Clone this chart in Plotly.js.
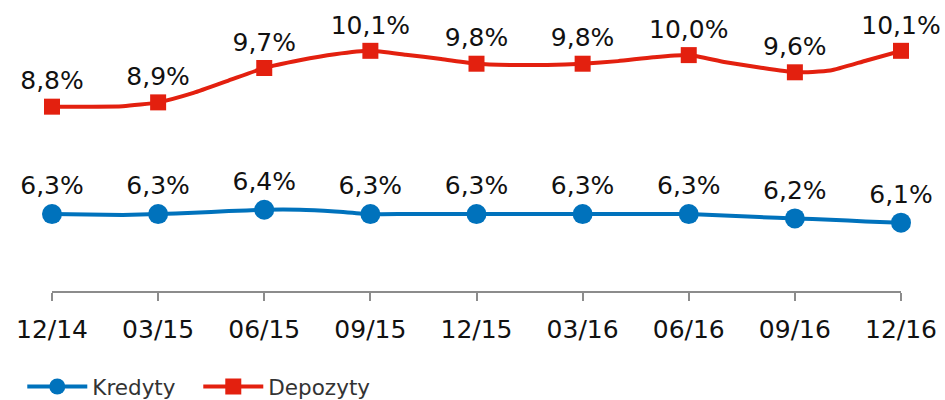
<!DOCTYPE html>
<html>
<head>
<meta charset="utf-8">
<script src="https://cdn.plot.ly/plotly-3.0.1.min.js"></script>
<style>html,body{margin:0;padding:0;background:#fff;}#chart{width:945px;height:400px;}</style>
</head>
<body>
<div id="chart"></div>
<script>
// Monthly categories (12/2014 - 12/2016)
const months = ['12/14','01/15','02/15','03/15','04/15','05/15','06/15','07/15','08/15','09/15','10/15','11/15','12/15',
                '01/16','02/16','03/16','04/16','05/16','06/16','07/16','08/16','09/16','10/16','11/16','12/16'];
// Quarterly tick labels
const quarterTicks = ['12/14','03/15','06/15','09/15','12/15','03/16','06/16','09/16','12/16'];

// Series values (%), monthly; quarterly points carry the labelled values
const kredyty = [6.3, 6.29, 6.28, 6.3, 6.33, 6.37, 6.4, 6.4, 6.36, 6.3, 6.3, 6.3, 6.3,
                 6.3, 6.3, 6.3, 6.3, 6.3, 6.3, 6.27, 6.23, 6.2, 6.17, 6.13, 6.1];
const depozyty = [8.8, 8.8, 8.81, 8.9, 9.12, 9.41, 9.7, 9.88, 10.02, 10.1, 10.01, 9.91, 9.8,
                  9.77, 9.77, 9.8, 9.86, 9.95, 10.0, 9.84, 9.71, 9.6, 9.64, 9.87, 10.1];

const seriesNames = ['Kredyty', 'Depozyty'];

const BLUE = '#0072BC';
const RED = '#E3200F';
const FONT = 'DejaVu Sans, Verdana, sans-serif';

function isQuarter(m) { return quarterTicks.indexOf(m) >= 0; }
function labels(vals) {
  return vals.map((v, i) => isQuarter(months[i]) ? v.toFixed(1).replace('.', ',') + '%' : '');
}
function markerColors(vals, c) {
  return vals.map((v, i) => isQuarter(months[i]) ? c : 'rgba(0,0,0,0)');
}

const traces = [
  {
    x: months, y: kredyty, name: seriesNames[0], type: 'scatter', mode: 'lines+markers+text',
    line: {color: BLUE, width: 4, shape: 'spline', smoothing: 0.5},
    marker: {symbol: 'circle', size: 20, color: markerColors(kredyty, BLUE)},
    text: labels(kredyty), textposition: 'top center',
    textfont: {family: FONT, size: 25, color: '#111111'},
    cliponaxis: false, hoverinfo: 'skip'
  },
  {
    x: months, y: depozyty, name: seriesNames[1], type: 'scatter', mode: 'lines+markers+text',
    line: {color: RED, width: 4, shape: 'spline', smoothing: 0.5},
    marker: {symbol: 'square', size: 16, color: markerColors(depozyty, RED)},
    text: labels(depozyty), textposition: 'top center',
    textfont: {family: FONT, size: 25, color: '#111111'},
    cliponaxis: false, hoverinfo: 'skip'
  }
];

const layout = {
  width: 945, height: 400,
  margin: {l: 52, r: 44, t: 10, b: 109, autoexpand: false},
  paper_bgcolor: '#ffffff', plot_bgcolor: '#ffffff',
  font: {family: FONT, color: '#111111'},
  showlegend: true,
  xaxis: {
    type: 'category', range: [0, 24], automargin: false,
    tickvals: quarterTicks, ticktext: quarterTicks,
    showline: true, linecolor: '#8c8c8c', linewidth: 2,
    ticks: 'outside', ticklen: 8, tickwidth: 2, tickcolor: '#8c8c8c',
    ticklabelstandoff: 7,
    showgrid: false, zeroline: false,
    tickfont: {family: FONT, size: 25, color: '#111111'}
  },
  yaxis: {range: [4.51, 11.05], visible: false, showgrid: false, zeroline: false},
  legend: {
    orientation: 'h', x: -0.035, xanchor: 'left', y: -0.34, yanchor: 'middle',
    font: {family: FONT, size: 21.5, color: '#333333'},
    itemwidth: 60, entrywidth: 101, bgcolor: 'rgba(0,0,0,0)'
  }
};

Plotly.newPlot('chart', traces, layout, {displayModeBar: false, staticPlot: true});
</script>
</body>
</html>
